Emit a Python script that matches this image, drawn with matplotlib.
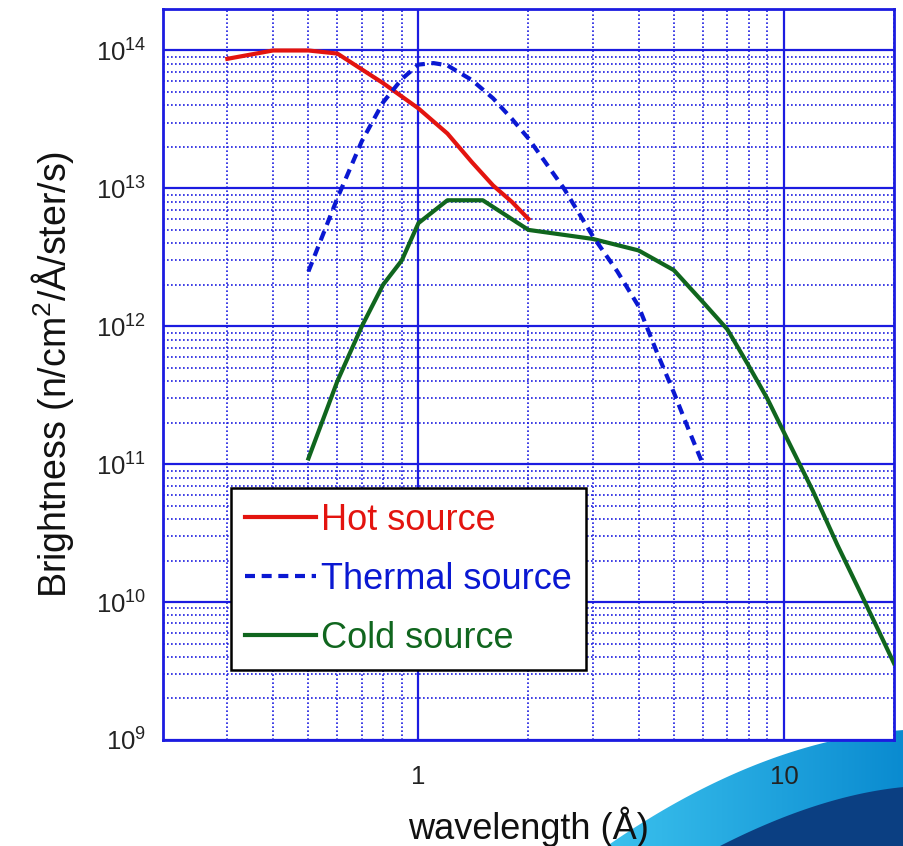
import numpy as np
import matplotlib.pyplot as plt
from matplotlib.patches import Polygon
from matplotlib.ticker import LogLocator, NullFormatter, FixedLocator, FixedFormatter

plt.rcParams['font.family'] = ['Liberation Sans', 'DejaVu Sans']
plt.rcParams['mathtext.default'] = 'regular'

# wavelength (A) and brightness (n/cm2/A/ster/s)
hot_wl = [0.3, 0.4, 0.5, 0.6, 0.8, 1.0, 1.2, 1.4, 1.6, 1.8, 2.0]
hot_br = [8.7e13, 1.0e14, 1.0e14, 9.5e13, 5.8e13, 3.8e13, 2.5e13, 1.55e13, 1.05e13, 8.0e12, 6.0e12]

thermal_wl = [0.5, 0.6, 0.7, 0.8, 0.9, 1.0, 1.1, 1.2, 1.4, 1.6, 1.8, 2.0,
              2.5, 3.0, 3.5, 4.0, 4.5, 5.0, 5.5, 6.0]
thermal_br = [2.5e12, 8.5e12, 2.2e13, 4.2e13, 6.2e13, 7.9e13, 8.1e13, 7.8e13, 6.1e13, 4.5e13,
              3.2e13, 2.3e13, 1.0e13, 4.5e12, 2.5e12, 1.4e12, 6.4e11, 3.3e11, 1.75e11, 1.0e11]

cold_wl = [0.5, 0.6, 0.7, 0.8, 0.9, 1.0, 1.2, 1.5, 2.0, 3.0, 4.0, 5.0, 6.0, 7.0,
           8.0, 9.0, 10, 12, 14, 16, 18, 20]
cold_br = [1.1e11, 4.0e11, 1.0e12, 2.0e12, 3.0e12, 5.6e12, 8.2e12, 8.2e12, 5.0e12, 4.3e12,
           3.55e12, 2.55e12, 1.5e12, 9.5e11, 5.2e11, 3.0e11, 1.7e11, 6.4e10, 2.6e10,
           1.25e10, 6.5e9, 3.6e9]

x_ticks = [1, 10]
x_ticklabels = ['1', '10']
y_ticks = [1e9, 1e10, 1e11, 1e12, 1e13, 1e14]

red = '#e3140f'
blue = '#0a18d2'
green = '#10661e'
grid_blue = '#1c1ce0'

fig = plt.figure(figsize=(9.04, 8.46), dpi=100)

# slide decoration in the bottom right corner
bg = fig.add_axes([0, 0, 1, 1], zorder=0)
bg.set_xlim(0, 904)
bg.set_ylim(846, 0)
bg.axis('off')


def bez(p0, p1, p2, n=80):
    t = np.linspace(0, 1, n)[:, None]
    return (1 - t) ** 2 * np.array(p0) + 2 * (1 - t) * t * np.array(p1) + t ** 2 * np.array(p2)


light = np.vstack([bez((607, 846), (760, 740), (904, 730)), [(904, 846)]])
dark = np.vstack([bez((720, 846), (820, 795), (904, 787)), [(904, 846)]])
grad = np.linspace(0, 1, 200)[None, :]
img = bg.imshow(grad, extent=[600, 904, 846, 720], cmap=plt.matplotlib.colors.LinearSegmentedColormap.from_list(
    'sw', ['#3cc2ee', '#0a8bd0']), aspect='auto')
p = Polygon(light, closed=True, facecolor='none', edgecolor='none')
bg.add_patch(p)
img.set_clip_path(p)
bg.add_patch(Polygon(dark, closed=True, facecolor='#0b3f82', edgecolor='none'))

ax = fig.add_axes([0.1803, 0.1253, 0.8086, 0.8641], zorder=1)
ax.set_facecolor('white')

ax.plot(hot_wl, hot_br, color=red, lw=3, label='Hot source', zorder=3)
ax.plot(cold_wl, cold_br, color=green, lw=3, label='Cold source', zorder=3)
ax.plot(thermal_wl, thermal_br, color=blue, lw=3, ls=(0, (2.4, 1.6)), label='Thermal source', zorder=4)

ax.set_xscale('log')
ax.set_yscale('log')
ax.set_xlim(0.2, 20)
ax.set_ylim(1e9, 2e14)

ax.xaxis.set_major_locator(FixedLocator(x_ticks))
ax.xaxis.set_major_formatter(FixedFormatter(x_ticklabels))
ax.xaxis.set_minor_locator(LogLocator(base=10, subs=np.arange(2, 10), numticks=20))
ax.xaxis.set_minor_formatter(NullFormatter())
ax.yaxis.set_major_locator(FixedLocator(y_ticks))
ax.yaxis.set_minor_locator(LogLocator(base=10, subs=np.arange(2, 10), numticks=20))
ax.yaxis.set_minor_formatter(NullFormatter())
ax.yaxis.set_major_formatter(plt.matplotlib.ticker.LogFormatterSciNotation())

ax.grid(which='major', color=grid_blue, lw=1.6, ls='-')
ax.grid(which='minor', color=grid_blue, lw=1.2, ls=(0, (1, 1.4)))
ax.set_axisbelow(True)

for s in ax.spines.values():
    s.set_color(grid_blue)
    s.set_linewidth(2)

ax.tick_params(which='both', length=0)
ax.tick_params(axis='x', labelsize=18.5, pad=18, labelcolor='#222222')
ax.tick_params(axis='y', labelsize=18.5, pad=12, labelcolor='#222222')

ax.set_xlabel('wavelength (Å)', fontsize=26, labelpad=13, color='#111111')
ax.set_ylabel('Brightness (n/cm$^{2}$/Å/ster/s)', fontsize=27, labelpad=14, color='#111111')

h, l = ax.get_legend_handles_labels()
order = [0, 2, 1]
leg = ax.legend([h[i] for i in order], [l[i] for i in order],
                loc='lower left', bbox_to_anchor=(0.093, 0.0958), borderaxespad=0,
                fontsize=26, frameon=True, fancybox=False, edgecolor='black', framealpha=1,
                labelcolor='linecolor', handlelength=1.95, handletextpad=0.15,
                borderpad=0.4, labelspacing=0.66)
leg.get_frame().set_linewidth(1.8)
leg.set_zorder(5)

plt.savefig('out.png', dpi=100)
plt.close()
